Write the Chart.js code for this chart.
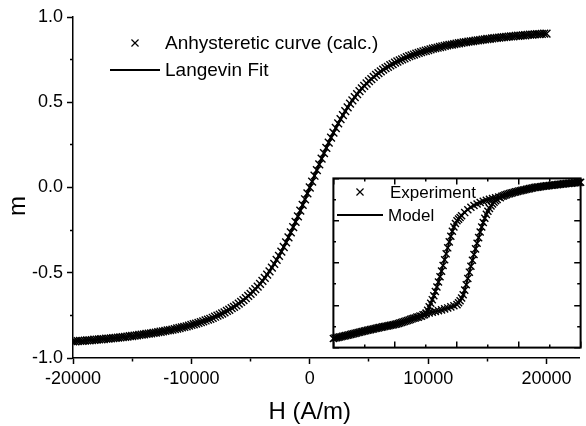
<!DOCTYPE html>
<html>
<head>
<meta charset="utf-8">
<script src="https://cdn.jsdelivr.net/npm/chart.js@4.4.1/dist/chart.umd.min.js"></script>
<style>
  html, body { margin: 0; padding: 0; background: #fff; overflow: hidden; }
  #wrap { position: relative; width: 586px; height: 426px; }
  #main { position: absolute; left: 0; top: 0; }
  #inset { position: absolute; left: 327px; top: 172px; background: #fff; }
</style>
</head>
<body>
<div id="wrap">
  <canvas id="main" width="586" height="426"></canvas>
  <canvas id="inset" width="260" height="182"></canvas>
</div>
<script>
// main plot: anhysteretic curve (markers) and Langevin fit (line)
const hCalc = [
  -20000, -19800, -19600, -19400, -19200, -19000, -18800, -18600, -18400, -18200,
  -18000, -17800, -17600, -17400, -17200, -17000, -16800, -16600, -16400, -16200,
  -16000, -15800, -15600, -15400, -15200, -15000, -14800, -14600, -14400, -14200,
  -14000, -13800, -13600, -13400, -13200, -13000, -12800, -12600, -12400, -12200,
  -12000, -11800, -11600, -11400, -11200, -11000, -10800, -10600, -10400, -10200,
  -10000, -9800, -9600, -9400, -9200, -9000, -8800, -8600, -8400, -8200,
  -8000, -7800, -7600, -7400, -7200, -7000, -6800, -6600, -6400, -6200,
  -6000, -5800, -5600, -5400, -5200, -5000, -4800, -4600, -4400, -4200,
  -4000, -3800, -3600, -3400, -3200, -3000, -2800, -2600, -2400, -2200,
  -2000, -1800, -1600, -1400, -1200, -1000, -800, -600, -400, -200,
  0,
  200, 400, 600, 800, 1000, 1200, 1400, 1600, 1800, 2000,
  2200, 2400, 2600, 2800, 3000, 3200, 3400, 3600, 3800, 4000,
  4200, 4400, 4600, 4800, 5000, 5200, 5400, 5600, 5800, 6000,
  6200, 6400, 6600, 6800, 7000, 7200, 7400, 7600, 7800, 8000,
  8200, 8400, 8600, 8800, 9000, 9200, 9400, 9600, 9800, 10000,
  10200, 10400, 10600, 10800, 11000, 11200, 11400, 11600, 11800, 12000,
  12200, 12400, 12600, 12800, 13000, 13200, 13400, 13600, 13800, 14000,
  14200, 14400, 14600, 14800, 15000, 15200, 15400, 15600, 15800, 16000,
  16200, 16400, 16600, 16800, 17000, 17200, 17400, 17600, 17800, 18000,
  18200, 18400, 18600, 18800, 19000, 19200, 19400, 19600, 19800, 20000
];
const mCalc = [
  -0.903, -0.902, -0.901, -0.900, -0.899, -0.898, -0.897, -0.896, -0.895, -0.893,
  -0.892, -0.891, -0.890, -0.889, -0.887, -0.886, -0.885, -0.883, -0.882, -0.880,
  -0.879, -0.877, -0.876, -0.874, -0.872, -0.871, -0.869, -0.867, -0.865, -0.863,
  -0.861, -0.859, -0.857, -0.855, -0.853, -0.851, -0.848, -0.846, -0.844, -0.841,
  -0.838, -0.836, -0.833, -0.830, -0.827, -0.824, -0.820, -0.817, -0.814, -0.810,
  -0.806, -0.802, -0.798, -0.794, -0.789, -0.785, -0.780, -0.775, -0.770, -0.764,
  -0.758, -0.752, -0.746, -0.739, -0.732, -0.724, -0.717, -0.708, -0.700, -0.691,
  -0.681, -0.671, -0.660, -0.649, -0.636, -0.624, -0.610, -0.596, -0.581, -0.565,
  -0.548, -0.530, -0.511, -0.492, -0.470, -0.448, -0.425, -0.401, -0.376, -0.349,
  -0.322, -0.293, -0.263, -0.233, -0.201, -0.169, -0.136, -0.102, -0.069, -0.034,
  0,
  0.034, 0.069, 0.102, 0.136, 0.169, 0.201, 0.233, 0.263, 0.293, 0.322,
  0.349, 0.376, 0.401, 0.425, 0.448, 0.470, 0.492, 0.511, 0.530, 0.548,
  0.565, 0.581, 0.596, 0.610, 0.624, 0.636, 0.649, 0.660, 0.671, 0.681,
  0.691, 0.700, 0.708, 0.717, 0.724, 0.732, 0.739, 0.746, 0.752, 0.758,
  0.764, 0.770, 0.775, 0.780, 0.785, 0.789, 0.794, 0.798, 0.802, 0.806,
  0.810, 0.814, 0.817, 0.820, 0.824, 0.827, 0.830, 0.833, 0.836, 0.838,
  0.841, 0.844, 0.846, 0.848, 0.851, 0.853, 0.855, 0.857, 0.859, 0.861,
  0.863, 0.865, 0.867, 0.869, 0.871, 0.872, 0.874, 0.876, 0.877, 0.879,
  0.880, 0.882, 0.883, 0.885, 0.886, 0.887, 0.889, 0.890, 0.891, 0.892,
  0.893, 0.895, 0.896, 0.897, 0.898, 0.899, 0.900, 0.901, 0.902, 0.903
];
const hFit = [
  -20000, -19000, -18000, -17000, -16000, -15000, -14000, -13000, -12000, -11000,
  -10000, -9000, -8000, -7000, -6000, -5000, -4000, -3000, -2000, -1000,
  0, 1000, 2000, 3000, 4000, 5000, 6000, 7000, 8000, 9000,
  10000, 11000, 12000, 13000, 14000, 15000, 16000, 17000, 18000, 19000, 20000
];
const mFit = [
  -0.903, -0.898, -0.892, -0.886, -0.879, -0.871, -0.861, -0.851, -0.838, -0.824,
  -0.806, -0.785, -0.758, -0.724, -0.681, -0.624, -0.548, -0.448, -0.322, -0.169,
  0, 0.169, 0.322, 0.448, 0.548, 0.624, 0.681, 0.724, 0.758, 0.785,
  0.806, 0.824, 0.838, 0.851, 0.861, 0.871, 0.879, 0.886, 0.892, 0.898, 0.903
];
const xTicks = [-20000, -15000, -10000, -5000, 0, 5000, 10000, 15000, 20000];
const yTicks = [-1, -0.75, -0.5, -0.25, 0, 0.25, 0.5, 0.75, 1];

// inset: measured hysteresis loop (arbitrary units, no tick labels)
const hExpUp = [
  -4.0, -3.9, -3.8, -3.7, -3.6, -3.5, -3.4, -3.3, -3.2, -3.1,
  -3.0, -2.9, -2.8, -2.7, -2.6, -2.5, -2.4, -2.3, -2.2, -2.1,
  -2.0, -1.9, -1.8, -1.7, -1.6, -1.5, -1.4, -1.3, -1.2, -1.1,
  -1.0, -0.9, -0.8, -0.7, -0.6, -0.5, -0.4, -0.3, -0.2, -0.1,
  0.0, 0.05, 0.10, 0.15, 0.20, 0.25, 0.30, 0.35, 0.40, 0.45,
  0.50, 0.55, 0.60, 0.65, 0.70, 0.75, 0.80, 0.85, 0.90, 0.95,
  1.00, 1.05, 1.10, 1.15, 1.20, 1.25, 1.30, 1.40, 1.50, 1.60,
  1.70, 1.80, 1.90, 2.00, 2.1, 2.2, 2.3, 2.4, 2.5, 2.6,
  2.7, 2.8, 2.9, 3.0, 3.1, 3.2, 3.3, 3.4, 3.5, 3.6,
  3.7, 3.8, 3.9, 4.0
];
const mExpUp = [
  -1.070, -1.060, -1.050, -1.040, -1.030, -1.020, -1.009, -0.998, -0.987, -0.976,
  -0.965, -0.955, -0.945, -0.935, -0.925, -0.915, -0.906, -0.897, -0.888, -0.879,
  -0.870, -0.857, -0.844, -0.830, -0.815, -0.800, -0.784, -0.768, -0.752, -0.736,
  -0.720, -0.709, -0.698, -0.687, -0.676, -0.665, -0.651, -0.637, -0.622, -0.606,
  -0.590, -0.565, -0.535, -0.497, -0.450, -0.385, -0.308, -0.220, -0.130, -0.045,
  0.040, 0.120, 0.200, 0.280, 0.360, 0.440, 0.510, 0.575, 0.635, 0.690,
  0.735, 0.775, 0.810, 0.838, 0.862, 0.883, 0.900, 0.927, 0.952, 0.970,
  0.984, 0.997, 1.009, 1.020, 1.030, 1.040, 1.050, 1.060, 1.070, 1.076,
  1.082, 1.088, 1.094, 1.100, 1.105, 1.110, 1.115, 1.120, 1.125, 1.129,
  1.133, 1.137, 1.141, 1.145
];
const hExpDown = [
  3.95, 3.85, 3.75, 3.65, 3.55, 3.45, 3.35, 3.25, 3.15, 3.05,
  2.95, 2.85, 2.75, 2.65, 2.55, 2.45, 2.35, 2.25, 2.15, 2.05,
  1.95, 1.85, 1.75, 1.65, 1.55, 1.45, 1.35, 1.25, 1.15, 1.05,
  0.95, 0.85, 0.75, 0.65, 0.55, 0.45, 0.35, 0.25, 0.15, 0.10,
  0.05, 0.00, -0.05, -0.10, -0.15, -0.20, -0.25, -0.30, -0.35, -0.40,
  -0.45, -0.50, -0.55, -0.60, -0.65, -0.70, -0.75, -0.80, -0.85, -0.90,
  -0.95, -1.00, -1.05, -1.15, -1.25, -1.35, -1.45, -1.55, -1.65, -1.75,
  -1.85, -1.95, -2.05, -2.15, -2.25, -2.35, -2.45, -2.55, -2.65, -2.75,
  -2.85, -2.95, -3.05, -3.15, -3.25, -3.35, -3.45, -3.55, -3.65, -3.75,
  -3.85, -3.95
];
const mExpDown = [
  1.143, 1.139, 1.135, 1.131, 1.127, 1.122, 1.117, 1.112, 1.107, 1.102,
  1.097, 1.091, 1.085, 1.079, 1.073, 1.065, 1.055, 1.045, 1.035, 1.025,
  1.015, 1.003, 0.991, 0.978, 0.963, 0.948, 0.935, 0.925, 0.914, 0.903,
  0.890, 0.874, 0.857, 0.838, 0.815, 0.790, 0.755, 0.715, 0.670, 0.645,
  0.622, 0.600, 0.560, 0.510, 0.450, 0.380, 0.300, 0.215, 0.130, 0.045,
  -0.035, -0.115, -0.195, -0.270, -0.340, -0.405, -0.465, -0.520, -0.570, -0.620,
  -0.670, -0.710, -0.735, -0.755, -0.768, -0.780, -0.792, -0.808, -0.823, -0.837,
  -0.851, -0.865, -0.875, -0.884, -0.893, -0.902, -0.911, -0.920, -0.930, -0.940,
  -0.950, -0.960, -0.971, -0.982, -0.993, -1.004, -1.015, -1.025, -1.035, -1.045,
  -1.055, -1.065
];
// model curve through the loop
const hModel = [
  -4, -3, -2, -1.5, -1, -0.5, 0, 0.2, 0.35, 0.5, 0.65, 0.8, 0.95, 1.1, 1.3, 1.6, 2, 3, 4,
  3, 2, 1.6, 1.3, 1.0, 0.7, 0.4, 0.15, 0, -0.15, -0.3, -0.45, -0.6, -0.75, -0.9, -1.0, -1.5, -2, -3, -4
];
const mModel = [
  -1.07, -0.965, -0.87, -0.80, -0.72, -0.665, -0.59, -0.45, -0.22, 0.04, 0.28, 0.51, 0.69, 0.81, 0.90, 0.97, 1.02, 1.10, 1.145,
  1.10, 1.02, 0.97, 0.93, 0.90, 0.855, 0.78, 0.68, 0.60, 0.45, 0.215, -0.03, -0.27, -0.465, -0.62, -0.71, -0.80, -0.87, -0.965, -1.07
];
const insetXTicks = [-4, -3, -2, -1, 0, 1, 2, 3, 4];
const insetYTicks = [-1.2, -0.9, -0.6, -0.3, 0, 0.3, 0.6, 0.9, 1.2];

const FONT = 'Arial, "Liberation Sans", Helvetica, sans-serif';

function pts(xs, ys) {
  return xs.map((x, i) => ({ x: x, y: ys[i] }));
}
function near(v, step) {
  return Math.abs(v / step - Math.round(v / step)) < 1e-6;
}
function cross(ctx, x, y, r) {
  if (Chart.helpers && Chart.helpers.drawPoint) {
    Chart.helpers.drawPoint(ctx, { pointStyle: 'crossRot', radius: r, rotation: 0, borderWidth: 1 }, x, y);
  } else {
    const d = r * Math.SQRT1_2;
    ctx.beginPath();
    ctx.moveTo(x - d, y - d); ctx.lineTo(x + d, y + d);
    ctx.moveTo(x + d, y - d); ctx.lineTo(x - d, y + d);
    ctx.stroke();
  }
}

// axis titles and legend for the main plot
const mainDecor = {
  id: 'mainDecor',
  afterDraw(chart) {
    const ctx = chart.ctx;
    const xs = chart.scales.x;
    ctx.save();
    ctx.fillStyle = '#000';
    ctx.strokeStyle = '#000';
    ctx.textBaseline = 'middle';

    ctx.font = '24px ' + FONT;
    ctx.textAlign = 'center';
    const cx = (xs.getPixelForValue(-20000) + xs.getPixelForValue(20000)) / 2;
    ctx.fillText('H (A/m)', cx, 412);
    ctx.save();
    ctx.translate(18, 206);
    ctx.rotate(-Math.PI / 2);
    ctx.fillText('m', 0, 0);
    ctx.restore();

    ctx.font = '19px ' + FONT;
    ctx.textAlign = 'left';
    ctx.lineWidth = 1.2;
    cross(ctx, 135, 43, 5);
    ctx.fillText('Anhysteretic curve (calc.)', 165, 44);
    ctx.lineWidth = 2;
    ctx.beginPath();
    ctx.moveTo(110, 70);
    ctx.lineTo(160, 70);
    ctx.stroke();
    ctx.fillText('Langevin Fit', 165, 71);
    ctx.restore();
  }
};

new Chart(document.getElementById('main'), {
  type: 'scatter',
  data: {
    datasets: [
      {
        label: 'Anhysteretic curve (calc.)',
        data: pts(hCalc, mCalc),
        showLine: false,
        pointStyle: 'crossRot',
        pointRadius: 5.5,
        pointBorderWidth: 1.4,
        borderColor: '#000',
        backgroundColor: '#000'
      },
      {
        label: 'Langevin Fit',
        data: pts(hFit, mFit),
        showLine: true,
        pointRadius: 0,
        borderColor: '#000',
        borderWidth: 2.5,
        cubicInterpolationMode: 'monotone'
      }
    ]
  },
  options: {
    responsive: false,
    animation: false,
    layout: { padding: { top: 17, left: 0, right: 0, bottom: 0 } },
    plugins: { legend: { display: false }, tooltip: { enabled: false } },
    scales: {
      x: {
        type: 'linear',
        min: -20000,
        max: 22750,
        afterFit: s => { s.height = 68; },
        afterBuildTicks: s => { s.ticks = xTicks.map(v => ({ value: v })); },
        border: { color: '#000', width: 1.5 },
        grid: {
          drawOnChartArea: false,
          tickLength: 6,
          tickColor: '#000',
          tickWidth: 1.5,
          tickBorderDash: c => (c.tick && near(c.tick.value, 10000)) ? [] : [3, 100]
        },
        ticks: {
          color: '#000',
          font: { family: FONT, size: 18 },
          padding: 4,
          maxRotation: 0,
          autoSkip: false,
          callback: v => near(v, 10000) ? String(v) : ''
        }
      },
      y: {
        min: -1,
        max: 1,
        afterFit: s => { s.width = 73; },
        afterBuildTicks: s => { s.ticks = yTicks.map(v => ({ value: v })); },
        border: { color: '#000', width: 1.5 },
        grid: {
          drawOnChartArea: false,
          tickLength: 6,
          tickColor: '#000',
          tickWidth: 1.5,
          tickBorderDash: c => (c.tick && near(c.tick.value, 0.5)) ? [] : [0, 3, 3, 100]
        },
        ticks: {
          color: '#000',
          font: { family: FONT, size: 18 },
          padding: 4,
          autoSkip: false,
          callback: v => near(v, 0.5) ? v.toFixed(1) : ''
        }
      }
    }
  },
  plugins: [mainDecor]
});

// inset frame and legend
const insetDecor = {
  id: 'insetDecor',
  afterDraw(chart) {
    const ctx = chart.ctx;
    const a = chart.chartArea;
    ctx.save();
    ctx.strokeStyle = '#000';
    ctx.fillStyle = '#000';
    ctx.lineWidth = 2;
    ctx.strokeRect(a.left, a.top, a.right - a.left, a.bottom - a.top);

    ctx.font = '17px ' + FONT;
    ctx.textBaseline = 'middle';
    ctx.textAlign = 'left';
    ctx.lineWidth = 1.2;
    cross(ctx, 33, 20, 5);
    ctx.fillText('Experiment', 63, 21);
    ctx.lineWidth = 2;
    ctx.beginPath();
    ctx.moveTo(10, 43);
    ctx.lineTo(56, 43);
    ctx.stroke();
    ctx.fillText('Model', 61, 44);
    ctx.restore();
  }
};

function insetDash(c, horizontal, step) {
  const a = c.chart.chartArea;
  if (!a || !c.tick) return [];
  const len = horizontal ? a.bottom - a.top : a.right - a.left;
  const t = near(c.tick.value, step) ? 6 : 3;
  return [t, len - 2 * t, t, 1000];
}

new Chart(document.getElementById('inset'), {
  type: 'scatter',
  data: {
    datasets: [
      {
        label: 'Experiment',
        data: pts(hExpUp, mExpUp).concat(pts(hExpDown, mExpDown)),
        showLine: false,
        pointStyle: 'crossRot',
        pointRadius: 5,
        pointBorderWidth: 1.4,
        borderColor: '#000',
        backgroundColor: '#000',
        clip: 5
      },
      {
        label: 'Model',
        data: pts(hModel, mModel),
        showLine: true,
        pointRadius: 0,
        borderColor: '#000',
        borderWidth: 2,
        tension: 0.2
      }
    ]
  },
  options: {
    responsive: false,
    animation: false,
    layout: { padding: 2 },
    plugins: { legend: { display: false }, tooltip: { enabled: false } },
    scales: {
      x: {
        type: 'linear',
        min: -4,
        max: 4,
        afterFit: s => { s.height = 0; },
        afterBuildTicks: s => { s.ticks = insetXTicks.map(v => ({ value: v })); },
        ticks: { display: false },
        border: { display: false, dash: c => insetDash(c, true, 2) },
        grid: { drawTicks: false, color: '#000', lineWidth: 1.5 }
      },
      y: {
        min: -1.2,
        max: 1.2,
        afterFit: s => { s.width = 0; },
        afterBuildTicks: s => { s.ticks = insetYTicks.map(v => ({ value: v })); },
        ticks: { display: false },
        border: { display: false, dash: c => insetDash(c, false, 0.6) },
        grid: { drawTicks: false, color: '#000', lineWidth: 1.5 }
      }
    }
  },
  plugins: [insetDecor]
});
</script>
</body>
</html>
